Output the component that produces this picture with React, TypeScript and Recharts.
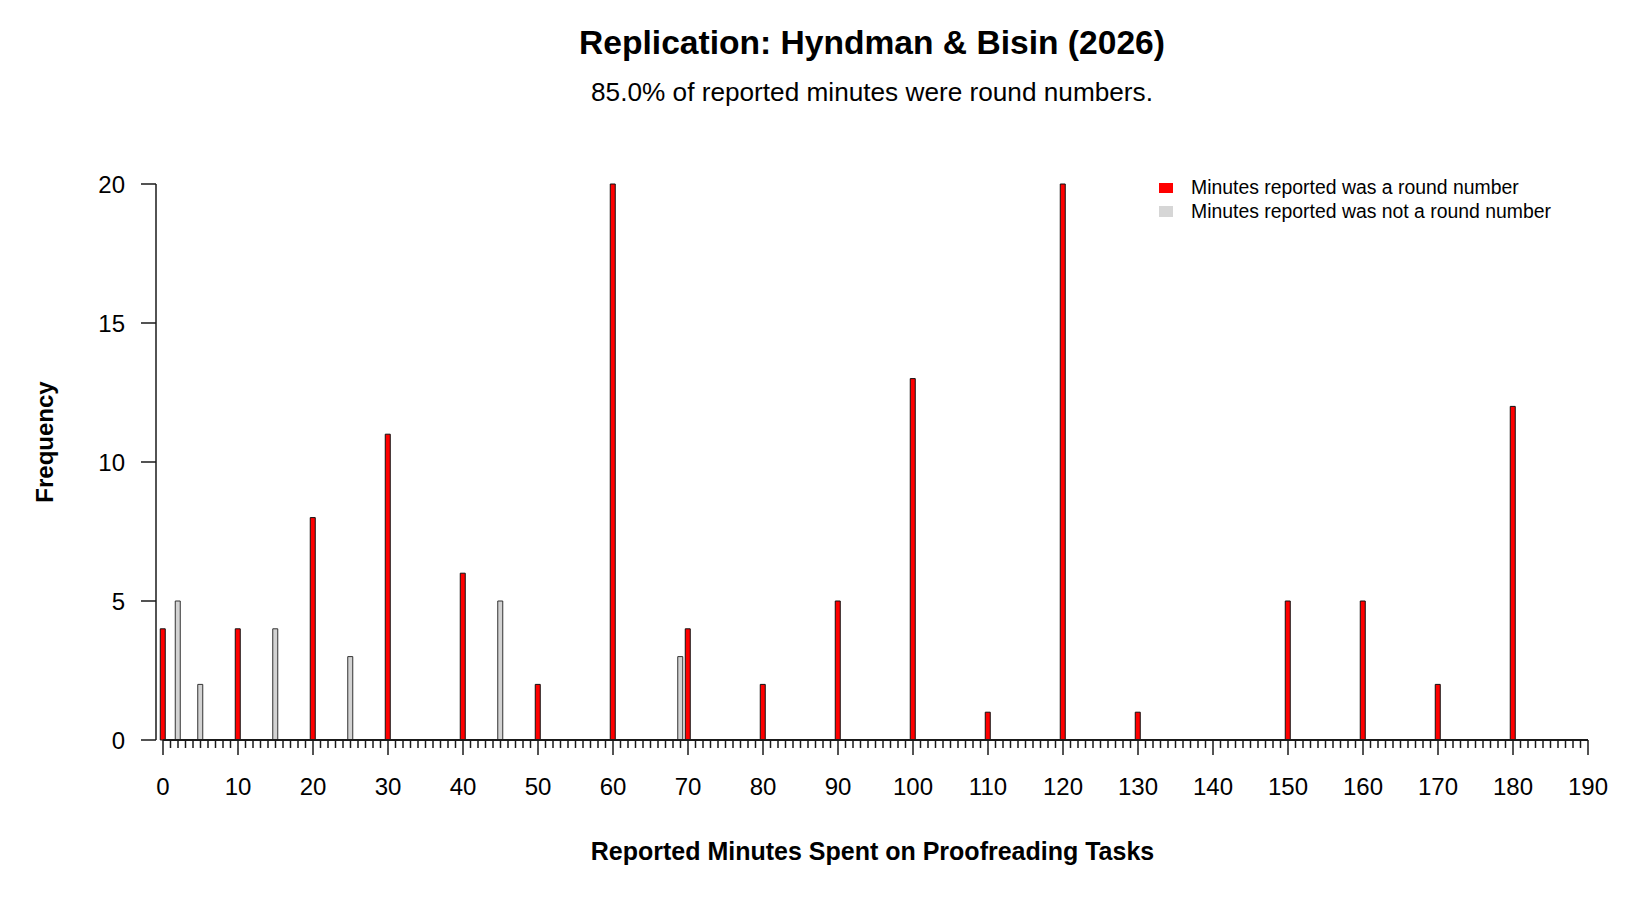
import React from 'react';
import { BarChart, Bar, XAxis, YAxis, ReferenceLine, Legend } from 'recharts';

// Minutes that are round numbers (multiples of 10) and their frequencies
const roundMinutes = [0, 10, 20, 30, 40, 50, 60, 70, 80, 90, 100, 110, 120, 130, 150, 160, 170, 180];
const roundCounts = [4, 4, 8, 11, 6, 2, 20, 4, 2, 5, 13, 1, 20, 1, 5, 5, 2, 12];

// Minutes that are not round numbers and their frequencies
const otherMinutes = [2, 5, 15, 25, 45, 69];
const otherCounts = [5, 2, 4, 3, 5, 3];

// Axis ticks
const xMin = 0;
const xMax = 190;
const xTicks = Array.from({ length: xMax - xMin + 1 }, (_, i) => xMin + i);
const yTicks = [0, 5, 10, 15, 20];

const legendItems = [
  { label: 'Minutes reported was a round number', color: '#FF0000' },
  { label: 'Minutes reported was not a round number', color: '#D6D6D6' },
];

const titleText = 'Replication: Hyndman & Bisin (2026)';
const totalRound = roundCounts.reduce((a, b) => a + b, 0);
const totalOther = otherCounts.reduce((a, b) => a + b, 0);
const subtitleText = `${((100 * totalRound) / (totalRound + totalOther)).toFixed(1)}% of reported minutes were round numbers.`;
const xTitle = 'Reported Minutes Spent on Proofreading Tasks';
const yTitle = 'Frequency';

const FONT = '"Liberation Sans", Arial, Helvetica, sans-serif';

const data = (() => {
  const map = new Map<number, { minute: number; round: number; other: number }>();
  roundMinutes.forEach((m, i) => {
    const row = map.get(m) || { minute: m, round: 0, other: 0 };
    row.round = roundCounts[i];
    map.set(m, row);
  });
  otherMinutes.forEach((m, i) => {
    const row = map.get(m) || { minute: m, round: 0, other: 0 };
    row.other = otherCounts[i];
    map.set(m, row);
  });
  return Array.from(map.values()).sort((a, b) => a.minute - b.minute);
})();

const AXIS_COLOR = '#1a1a1a';

const XTick = (props: any) => {
  const { x, y, payload } = props;
  const v = payload.value;
  const major = v % 10 === 0;
  return (
    <g>
      <line x1={x} x2={x} y1={y} y2={y + (major ? 15 : 8)} stroke={AXIS_COLOR} strokeWidth={1.5} />
      {major && (
        <text x={x} y={y + 55} textAnchor="middle" fontSize={24} fontFamily={FONT} fill="#000">
          {v}
        </text>
      )}
    </g>
  );
};

const YTick = (props: any) => {
  const { x, y, payload } = props;
  return (
    <g>
      <line x1={x - 15} x2={x} y1={y} y2={y} stroke={AXIS_COLOR} strokeWidth={1.5} />
      <text x={x - 31} y={y + 9} textAnchor="end" fontSize={24} fontFamily={FONT} fill="#000">
        {payload.value}
      </text>
    </g>
  );
};

const renderLegend = () => (
  <div style={{ fontFamily: FONT, fontSize: 19.4, color: '#000' }}>
    {legendItems.map((it) => (
      <div key={it.label} style={{ display: 'flex', alignItems: 'center', height: 23.5, whiteSpace: 'nowrap' }}>
        <span style={{ display: 'inline-block', width: 14, height: 10.5, background: it.color, marginRight: 18 }} />
        <span>{it.label}</span>
      </div>
    ))}
  </div>
);

export default function App() {
  return (
    <div style={{ position: 'absolute', left: 0, top: 0, width: 1650, height: 905, background: '#fff' }}>
      <BarChart
        width={1650}
        height={905}
        data={data}
        margin={{ top: 184, right: 62, bottom: 0, left: 0 }}
        barCategoryGap={0}
        barGap={0}
      >
        <XAxis
          dataKey="minute"
          type="number"
          domain={[xMin, xMax]}
          ticks={xTicks}
          interval={0}
          padding={{ left: 7, right: 0 }}
          axisLine={false}
          tickLine={false}
          tickSize={0}
          tickMargin={0}
          height={165}
          tick={(p: any) => <XTick {...p} />}
        />
        <YAxis
          type="number"
          domain={[0, 20]}
          ticks={yTicks}
          interval={0}
          width={156}
          axisLine={{ stroke: AXIS_COLOR, strokeWidth: 1.5 }}
          tickLine={false}
          tickSize={0}
          tickMargin={0}
          tick={(p: any) => <YTick {...p} />}
        />
        <Bar dataKey="round" stackId="a" fill="#FF0000" stroke="#111" strokeWidth={1} barSize={5} isAnimationActive={false} />
        <Bar dataKey="other" stackId="a" fill="#D3D3D3" stroke="#333" strokeWidth={1} barSize={5} isAnimationActive={false} />
        <ReferenceLine
          segment={[{ x: xMin, y: 0 }, { x: xMax, y: 0 }]}
          stroke={AXIS_COLOR}
          strokeWidth={2}
        />
        <Legend
          layout="horizontal"
          verticalAlign="middle"
          align="center"
          content={renderLegend}
          wrapperStyle={{ position: 'absolute', left: 1159, top: 176, width: 440, height: 47 }}
        />
      </BarChart>
      <svg
        width={1650}
        height={905}
        style={{ position: 'absolute', left: 0, top: 0, pointerEvents: 'none' }}
      >
        <text x={872} y={54} textAnchor="middle" fontSize={33.6} fontWeight="bold" fontFamily={FONT} fill="#000">
          {titleText}
        </text>
        <text x={872} y={101} textAnchor="middle" fontSize={26.2} fontFamily={FONT} fill="#000">
          {subtitleText}
        </text>
        <text x={872.5} y={860} textAnchor="middle" fontSize={25} fontWeight="bold" fontFamily={FONT} fill="#000">
          {xTitle}
        </text>
        <text
          x={53}
          y={442}
          transform="rotate(-90 53 442)"
          textAnchor="middle"
          fontSize={24}
          fontWeight="bold"
          fontFamily={FONT}
          fill="#000"
        >
          {yTitle}
        </text>
      </svg>
    </div>
  );
}
